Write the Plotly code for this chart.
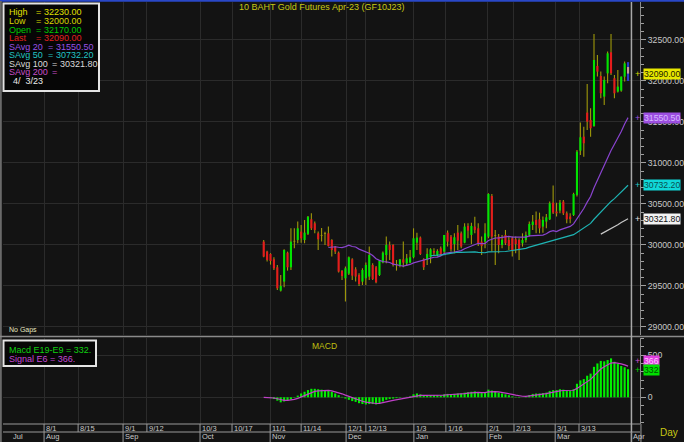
import plotly.graph_objects as go

# ---------------- data ----------------
bar_index = list(range(108))   # trading-bar positions, late Oct 2022 .. 31 Mar 2023

opens = [30041, 29919, 29890, 29825, 29728, 29443, 29553, 29906, 29728, 30041,
         30061, 30163, 30061, 30135, 30313, 30264, 30142, 30110, 30134, 30142,
         30061, 29980, 29906, 29683, 29594, 29650, 29825, 29703, 29634, 29553,
         29594, 29614, 29756, 29728, 29634, 29785, 29878, 30000, 30000, 29756,
         29744, 29825, 29776, 29785, 29850, 30028, 30090, 29825, 29817, 29850,
         29927, 29878, 29959, 29919, 30150, 30102, 30012, 30150, 30142, 30028,
         30232, 30122, 30224, 30203, 30041, 30041, 30102, 30598, 30110, 30102,
         30000, 30122, 30061, 30081, 30069, 30061, 30020, 30061, 30122, 30244,
         30305, 30313, 30224, 30285, 30313, 30516, 30407, 30419, 30529, 30386,
         30346, 30366, 30610, 31150, 31321, 31614, 31524, 31451, 32183, 32061,
         31809, 32093, 32350, 32033, 31870, 31882, 32053, 32170]
highs = [30061, 29930, 29900, 29850, 29756, 29634, 29947, 29919, 30203, 30203,
         30285, 30244, 30305, 30353, 30386, 30285, 30163, 30207, 30162, 30224,
         30069, 29988, 29919, 29695, 29736, 29858, 29837, 29728, 29654, 29715,
         29785, 29980, 29776, 29744, 29817, 29919, 30102, 30041, 30008, 29817,
         29825, 30041, 29890, 29939, 30203, 30150, 30102, 29837, 29959, 29959,
         29959, 29947, 29980, 30122, 30175, 30122, 30142, 30244, 30163, 30264,
         30264, 30272, 30345, 30264, 30102, 30264, 30630, 30622, 30183, 30134,
         30122, 30183, 30102, 30102, 30102, 30081, 30142, 30163, 30285, 30366,
         30407, 30394, 30346, 30378, 30529, 30724, 30516, 30549, 30549, 30407,
         30386, 30638, 31159, 31492, 31443, 31963, 31667, 32573, 32317, 32114,
         32053, 32358, 32573, 32073, 32134, 32053, 32236, 32230]
lows = [29850, 29797, 29760, 29695, 29451, 29431, 29484, 29687, 29695, 29959,
        30020, 30028, 30020, 30122, 30183, 30142, 29939, 30041, 30000, 29980,
        29858, 29890, 29663, 29573, 29310, 29634, 29573, 29553, 29500, 29512,
        29512, 29573, 29573, 29533, 29622, 29776, 29776, 29817, 29736, 29687,
        29728, 29728, 29744, 29776, 29837, 29939, 29878, 29695, 29756, 29776,
        29878, 29858, 29866, 29898, 29980, 29919, 29898, 29939, 29959, 30020,
        30081, 30012, 30142, 29988, 29878, 29959, 30081, 29919, 29756, 29898,
        29959, 30000, 29939, 29858, 29898, 29817, 29980, 30029, 30102, 30183,
        30142, 30142, 30150, 30203, 30305, 30378, 30346, 30386, 30366, 30264,
        30264, 30354, 30590, 31098, 31077, 31402, 31321, 31443, 32053, 31789,
        31707, 31972, 32073, 31789, 31858, 31870, 31992, 32000]
closes = [29858, 29817, 29805, 29715, 29472, 29500, 29939, 29728, 30041, 30041,
          30203, 30081, 30150, 30345, 30203, 30183, 30069, 30110, 30134, 29988,
          29939, 29919, 29675, 29622, 29715, 29850, 29626, 29614, 29524, 29695,
          29756, 29878, 29585, 29545, 29809, 29906, 30000, 29939, 29756, 29756,
          29825, 29785, 29837, 29850, 30081, 30090, 29890, 29728, 29890, 29947,
          29906, 29927, 29878, 30122, 30041, 29947, 30094, 30053, 29980, 30224,
          30175, 30232, 30183, 30020, 29988, 30142, 30622, 30102, 30110, 30000,
          30061, 30020, 29988, 29939, 30012, 29939, 30061, 30122, 30256, 30285,
          30244, 30203, 30305, 30337, 30508, 30394, 30386, 30516, 30386, 30313,
          30317, 30622, 31138, 31313, 31240, 31504, 31423, 32256, 32114, 31850,
          32012, 32337, 32093, 31850, 31931, 32053, 32215, 32090]

macd_vals = [0, -5, -10, -20, -40, -60, -50, -40, -25, -5,
             20, 45, 65, 85, 100, 100, 95, 90, 85, 80,
             65, 45, 25, 5, -15, -30, -45, -55, -70, -80,
             -85, -80, -80, -85, -70, -50, -30, -20, -15, -10,
             -5, 0, 5, 10, 35, 45, 35, 20, 20, 25,
             25, 25, 20, 35, 40, 35, 40, 45, 45, 55,
             60, 65, 70, 60, 50, 50, 90, 80, 65, 55,
             45, 35, 25, 10, 5, -5, 0, 5, 25, 40,
             45, 45, 50, 55, 75, 85, 85, 95, 90, 80,
             75, 95, 160, 200, 215, 255, 280, 360, 400, 430,
             425, 440, 460, 420, 395, 370, 355, 332]

day_tick_pos = [-64.5, -54.5, -41.3, -34.3, -18.7, -9.3, 1.9, 11.0, 24.2, 30.0,
                44.1, 53.5, 65.6, 73.5, 85.6, 92.6]
day_tick_labels = ['8/1', '8/15', '9/1', '9/12', '10/3', '10/17', '11/1', '11/14',
                   '12/1', '12/13', '1/3', '1/16', '2/1', '2/13', '3/1', '3/13']
month_pos = [-64.5, -41.3, -18.7, 1.9, 24.2, 44.1, 65.6, 85.6, 108]
month_labels = ['Aug', 'Sep', 'Oct', 'Nov', 'Dec', 'Jan', 'Feb', 'Mar', 'Apr']
first_month_label = 'Jul'
first_month_pos = -74.3
today_pos = 108

price_ticks = [29000, 29500, 30000, 30500, 31000, 31500, 32000, 32500]
macd_ticks = [0, 500]

title_text = '10 BAHT Gold Futures Apr-23 (GF10J23)'
last_price = 32090.00
savg20_last = 31550.50
savg50_last = 30732.20
savg100_last = 30321.80
macd_last = 332
signal_last = 366

# ---------------- style ----------------
W, H = 684, 442
ML, MR, MT, MB = 3, 44, 2, 0
PW, PH = W - ML - MR, H - MT - MB
BG = '#131313'
GRID = '#2b2b2b'
FONT = 'Liberation Sans'
X_RANGE = [-76.56, 110.51]


def px_x(px):
    return (px - ML) / PW


def px_y(py):
    return (H - MB - py) / PH


def sma(vals, n):
    out = [None] * len(vals)
    for i in range(n - 1, len(vals)):
        out[i] = sum(vals[i - n + 1:i + 1]) / n
    return out


def ema(vals, n):
    a = 2.0 / (n + 1)
    out, e = [], vals[0]
    for v in vals:
        e = e + a * (v - e)
        out.append(e)
    return out


UP, DOWN, DOJI, WICK = '#00e400', '#e41c1c', '#a09a0a', '#a09a0a'
body_base, body_h, body_col, wick_col, wick_w, body_w = [], [], [], [], [], []
for i, (o, c) in enumerate(zip(opens, closes)):
    body_base.append(min(o, c))
    body_h.append(max(abs(c - o), 9))
    body_col.append(UP if c > o else (DOWN if c < o else DOJI))
    wick_col.append(WICK)
    wick_w.append(0.32)
    body_w.append(0.62)
# last bar is highlighted (selected) in the reference
wick_col[-1] = '#2a3cc8'
wick_w[-1] = 0.62
body_col[-1] = '#c89a96'
wick_len = [h - l for h, l in zip(highs, lows)]

sma20 = sma(closes, 20)
sma50 = sma(closes, 50)
sma100 = sma(closes, 100)
signal = ema(macd_vals, 6)

fig = go.Figure()
fig.add_trace(go.Bar(x=bar_index, y=wick_len, base=lows, width=wick_w,
                     marker=dict(color=wick_col, line=dict(width=0)),
                     xaxis='x', yaxis='y', hoverinfo='skip'))
fig.add_trace(go.Bar(x=bar_index, y=body_h, base=body_base, width=body_w,
                     marker=dict(color=body_col, line=dict(width=0)),
                     xaxis='x', yaxis='y', hoverinfo='skip'))
fig.add_trace(go.Scatter(x=bar_index, y=sma20, mode='lines',
                         line=dict(color='#8a44d0', width=1.2), xaxis='x', yaxis='y'))
fig.add_trace(go.Scatter(x=bar_index, y=sma50, mode='lines',
                         line=dict(color='#1eb4b4', width=1.2), xaxis='x', yaxis='y'))
fig.add_trace(go.Scatter(x=bar_index, y=sma100, mode='lines',
                         line=dict(color='#c8c8c8', width=1.2), xaxis='x', yaxis='y'))
fig.add_trace(go.Bar(x=bar_index, y=macd_vals, width=0.62,
                     marker=dict(color='#00f000', line=dict(width=0)),
                     xaxis='x2', yaxis='y2', hoverinfo='skip'))
fig.add_trace(go.Scatter(x=bar_index, y=signal, mode='lines',
                         line=dict(color='#c040c8', width=1.2), xaxis='x2', yaxis='y2'))

main_dom = [px_y(335), 1]
macd_dom = [px_y(424), px_y(338)]

axis_x = dict(range=X_RANGE, showticklabels=False, ticks='', tickvals=day_tick_pos,
              showgrid=True, gridcolor=GRID, gridwidth=1, zeroline=False, showline=False,
              fixedrange=True)
TICKFONT = dict(family=FONT, size=8.7, color='#c8c8c8')
fig.update_layout(
    width=W, height=H, margin=dict(l=ML, r=MR, t=MT, b=MB, pad=0, autoexpand=False),
    paper_bgcolor=BG, plot_bgcolor=BG, showlegend=False, barmode='overlay',
    font=dict(family=FONT, size=9, color='#c8c8c8'),
    xaxis=dict(axis_x, domain=[0, 1], anchor='y'),
    xaxis2=dict(axis_x, domain=[0, 1], anchor='y2', matches='x'),
    yaxis=dict(domain=main_dom, range=[28902, 32963], side='right', anchor='x',
               tickvals=price_ticks, tickformat='.2f', showgrid=True, gridcolor=GRID,
               zeroline=False, ticks='outside', ticklen=5, tickcolor='#a0a0a0',
               showline=True, linecolor='#8a8a8a', linewidth=1, automargin=False,
               minor=dict(dtick=100, tick0=0, ticks='outside', ticklen=3,
                          tickcolor='#a0a0a0', showgrid=False),
               tickfont=TICKFONT),
    yaxis2=dict(domain=macd_dom, range=[-316, 701], side='right', anchor='x2',
                tickvals=macd_ticks, showgrid=True, gridcolor=GRID, zeroline=False,
                ticks='outside', ticklen=5, tickcolor='#a0a0a0', automargin=False,
                showline=True, linecolor='#8a8a8a', linewidth=1,
                minor=dict(dtick=100, tick0=0, ticks='outside', ticklen=3,
                           tickcolor='#a0a0a0', showgrid=False),
                tickfont=TICKFONT),
)

shapes = []
LINE = '#9a9a9a'
# window frame top line and left edge
shapes.append(dict(type='line', xref='paper', yref='paper', x0=-0.01, x1=1.08,
                   y0=px_y(0.8), y1=px_y(0.8), line=dict(color='#2a48c8', width=2)))
shapes.append(dict(type='line', xref='paper', yref='paper', x0=px_x(0.8), x1=px_x(0.8),
                   y0=0, y1=px_y(1), line=dict(color='#6a6a6a', width=2)))
# panel separators
shapes.append(dict(type='line', xref='paper', yref='paper', x0=-0.01, x1=1.08,
                   y0=px_y(336.5), y1=px_y(336.5), line=dict(color='#8a8a8a', width=1.5)))
for yy in (424, 432):
    shapes.append(dict(type='line', xref='paper', yref='paper', x0=0, x1=1,
                       y0=px_y(yy), y1=px_y(yy), line=dict(color=LINE, width=1)))
shapes.append(dict(type='line', xref='paper', yref='paper', x0=1.0015, x1=1.0015,
                   y0=0, y1=px_y(424), line=dict(color=LINE, width=1)))
# today line
shapes.append(dict(type='line', xref='x', yref='paper', x0=today_pos, x1=today_pos,
                   y0=0, y1=1, line=dict(color='#a8a8a8', width=1.5)))
# date axis separators
for p in day_tick_pos:
    shapes.append(dict(type='line', xref='x', yref='paper', x0=p, x1=p,
                       y0=px_y(432), y1=px_y(424), line=dict(color=LINE, width=1)))
for p in month_pos:
    shapes.append(dict(type='line', xref='x', yref='paper', x0=p, x1=p,
                       y0=0, y1=px_y(432), line=dict(color=LINE, width=1)))
# legend boxes
shapes.append(dict(type='rect', xref='paper', yref='paper', x0=px_x(3.5), x1=px_x(99),
                   y0=px_y(91), y1=px_y(3.5), fillcolor='#060606',
                   line=dict(color='#e4e4e4', width=2), layer='above'))
shapes.append(dict(type='rect', xref='paper', yref='paper', x0=px_x(3.5), x1=px_x(96),
                   y0=px_y(366), y1=px_y(340.5), fillcolor='#060606',
                   line=dict(color='#e4e4e4', width=2), layer='above'))

ann = []


def text(x, y, s, color, size=9, anchor='left'):
    ann.append(dict(x=px_x(x), y=px_y(y), xref='paper', yref='paper', text=s,
                    showarrow=False, xanchor=anchor, yanchor='middle',
                    font=dict(family=FONT, size=size, color=color)))


# title
text(322, 7.5, title_text, '#c8c814', 9, 'center')
# top-left legend
rows = [('High', '32230.00', '#e0e000', 12.5),
        ('Low', '32000.00', '#d8d800', 21),
        ('Open', '32170.00', '#00c800', 29.5),
        ('Last', '32090.00', '#e02020', 38)]
for lab, val, col, yy in rows:
    text(7, yy, lab, col)
    text(34, yy, '=', col)
    text(42, yy, val, col)
savg_rows = [('SAvg 20', '31550.50', '#9a52e8', 46.5, 46, 54),
             ('SAvg 50', '30732.20', '#22c4c4', 55, 46, 54),
             ('SAvg 100', '30321.80', '#dadada', 63.5, 50, 58),
             ('SAvg 200', '', '#c84ec8', 72, 50, 58)]
for lab, val, col, yy, xe, xv in savg_rows:
    text(7, yy, lab, col)
    text(xe, yy, '=', col)
    if val:
        text(xv, yy, val, col)
text(11, 81, '4/  3/23', '#ececec')
text(7, 330, 'No Gaps', '#e8e8c0', 7)
# MACD panel texts
text(310, 345.5, 'MACD', '#c0c010', 8.5)
text(7, 350, 'Macd E19-E9 = %d.' % macd_last, '#10d010')
text(7, 359, 'Signal E6 = %d.' % signal_last, '#c448d4')
text(658, 432.5, 'Day', '#c8c814', 10)
# date axis labels
for p, lab in zip(day_tick_pos, day_tick_labels):
    ann.append(dict(x=p, y=px_y(428.7), xref='x', yref='paper', text=lab, showarrow=False,
                    xanchor='left', yanchor='middle', xshift=0,
                    font=dict(family=FONT, size=7.5, color='#c8c8c8')))
for p, lab in zip([first_month_pos] + month_pos, [first_month_label] + month_labels):
    ann.append(dict(x=p, y=px_y(436.8), xref='x', yref='paper', text=lab, showarrow=False,
                    xanchor='left', yanchor='middle', xshift=0,
                    font=dict(family=FONT, size=7.5, color='#c8c8c8')))


# right-side value boxes and + markers
def value_box(val, fmt, yref, bg, fg, mark, yshift=0):
    ann.append(dict(x=px_x(637), y=val, xref='paper', yref=yref, text='+', showarrow=False,
                    xanchor='center', yanchor='middle', yshift=yshift,
                    font=dict(family=FONT, size=9, color=mark)))
    ann.append(dict(x=px_x(643), y=val, xref='paper', yref=yref, text=fmt % val,
                    showarrow=False, xanchor='left', yanchor='middle', yshift=yshift,
                    bgcolor=bg, borderpad=0,
                    font=dict(family=FONT, size=8.7, color=fg)))


value_box(last_price, '%.2f', 'y', '#e8e800', '#202000', '#d8d800')
value_box(savg20_last, '%.2f', 'y', '#9c4ee0', '#d8b8ff', '#a050e0')
value_box(savg50_last, '%.2f', 'y', '#10d8d8', '#0a5050', '#20c8c8')
value_box(savg100_last, '%.2f', 'y', '#f2f2f2', '#101010', '#e0e0e0')
value_box(signal_last, '%d', 'y2', '#e040e0', '#ffc8ff', '#d050d0', yshift=5)
value_box(macd_last, '%d', 'y2', '#00e000', '#005000', '#00d000', yshift=-1)

fig.update_layout(shapes=shapes, annotations=ann)
fig.write_html('out.html', config={'displayModeBar': False, 'staticPlot': True},
               post_script="document.body.style.margin='0';document.body.style.padding='0';"
                           "document.body.style.background='%s';" % BG)
